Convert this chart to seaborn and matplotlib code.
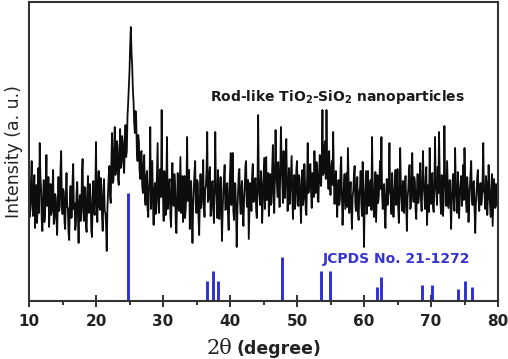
import numpy as np
import pandas as pd
import matplotlib
matplotlib.use('Agg')
import matplotlib.pyplot as plt
import seaborn as sns

# XRD pattern (2theta step 0.1 deg, intensity in a.u.)
two_theta = np.round(np.arange(10.0, 80.001, 0.1), 1)
intensity = [
    118, 84, 92, 121, 140, 97, 85, 109, 126, 73, 101, 116, 78, 98, 133, 88, 158, 125, 112, 80,
    70, 103, 121, 79, 88, 110, 146, 95, 99, 124, 74, 100, 117, 86, 90, 113, 131, 77, 82, 107,
    104, 82, 66, 98, 124, 90, 95, 131, 150, 101, 87, 112, 109, 79, 72, 105, 128, 94, 93, 68,
    61, 99, 115, 83, 84, 120, 137, 92, 98, 71, 76, 108, 119, 87, 58, 96, 106, 80, 89, 127,
    142, 91, 80, 114, 113, 75, 69, 102, 125, 88, 94, 117, 103, 70, 64, 99, 120, 93, 86, 110,
    159, 98, 79, 115, 130, 95, 91, 123, 115, 84, 70, 104, 122, 90, 88, 76, 50, 92, 110, 126,
    135, 104, 98, 142, 168, 118, 120, 150, 174, 126, 132, 160, 155, 121, 116, 147, 172, 133, 140, 165,
    160, 137, 128, 158, 176, 144, 150, 185, 198, 215, 230, 255, 274, 248, 236, 212, 200, 178, 168, 190,
    182, 150, 140, 166, 160, 131, 122, 148, 150, 115, 108, 136, 146, 102, 96, 124, 130, 92, 84, 112,
    125, 174, 92, 118, 140, 99, 76, 110, 118, 87, 100, 129, 158, 97, 88, 121, 132, 104, 191, 118,
    104, 80, 130, 111, 86, 120, 164, 92, 97, 118, 122, 85, 74, 106, 138, 99, 95, 127, 116, 78,
    68, 102, 128, 94, 90, 119, 144, 88, 101, 125, 79, 97, 125, 83, 93, 115, 164, 100, 105, 131,
    72, 108, 120, 90, 58, 96, 112, 129, 140, 95, 88, 121, 118, 84, 66, 101, 127, 93, 99, 114,
    141, 96, 84, 112, 115, 130, 169, 99, 102, 127, 134, 85, 90, 117, 120, 93, 78, 108, 169, 112,
    106, 83, 131, 114, 82, 98, 124, 95, 60, 89, 110, 122, 136, 91, 92, 115, 118, 86, 71, 104,
    125, 148, 96, 109, 148, 90, 81, 118, 117, 92, 54, 88, 109, 128, 132, 99, 87, 113, 120, 94,
    75, 101, 113, 135, 140, 97, 94, 121, 62, 88, 118, 106, 90, 126, 137, 99, 100, 119, 123, 91,
    83, 112, 186, 118, 105, 96, 130, 117, 78, 102, 121, 143, 92, 109, 144, 101, 110, 128, 85, 112,
    127, 96, 98, 133, 156, 110, 88, 124, 171, 130, 117, 104, 139, 118, 94, 126, 174, 140, 121, 98,
    150, 112, 103, 137, 162, 119, 90, 108, 133, 97, 111, 128, 145, 104, 82, 115, 126, 92, 99, 131,
    140, 107, 95, 126, 122, 100, 78, 112, 131, 96, 104, 137, 118, 91, 86, 119, 158, 108, 112, 135,
    137, 110, 93, 128, 125, 104, 150, 121, 108, 139, 134, 102, 99, 127, 146, 118, 115, 142, 191, 126,
    128, 154, 160, 122, 191, 140, 132, 112, 150, 124, 106, 131, 140, 116, 169, 125, 97, 120, 130, 103,
    84, 112, 121, 96, 101, 133, 144, 105, 76, 98, 115, 127, 92, 110, 128, 94, 153, 119, 88, 106,
    119, 93, 72, 104, 110, 126, 135, 98, 90, 115, 124, 88, 81, 109, 113, 130, 97, 85, 139, 108,
    54, 96, 112, 130, 87, 104, 130, 95, 100, 118, 121, 91, 164, 113, 95, 84, 118, 129, 79, 101,
    126, 98, 104, 121, 140, 112, 164, 106, 92, 114, 117, 88, 73, 103, 122, 96, 98, 120, 158, 109,
    106, 87, 128, 111, 84, 102, 115, 131, 96, 108, 132, 94, 78, 105, 153, 117, 102, 90, 120, 99,
    88, 116, 125, 97, 70, 103, 111, 128, 136, 92, 94, 119, 148, 108, 99, 124, 119, 91, 82, 110,
    127, 98, 105, 120, 138, 101, 90, 113, 150, 117, 108, 92, 123, 134, 76, 100, 116, 89, 153, 112,
    97, 121, 128, 94, 89, 110, 164, 119, 110, 96, 134, 108, 169, 124, 101, 87, 126, 115, 85, 103,
    175, 122, 112, 95, 140, 118, 93, 106, 121, 99, 72, 101, 118, 127, 99, 90, 153, 114, 106, 88,
    129, 102, 83, 110, 117, 125, 95, 108, 136, 101, 153, 120, 104, 89, 124, 112, 79, 98, 113, 128,
    140, 104, 96, 118, 120, 91, 68, 97, 109, 124, 131, 102, 90, 115, 118, 96, 101, 122, 158, 110,
    107, 92, 125, 116, 86, 104, 136, 111, 98, 84, 114, 127, 75, 99, 122, 108, 93, 117, 110, 95,
    100,
]

# JCPDS 21-1272 reference lines (positions as drawn in the picture)
ref_pos = [24.8, 36.6, 37.5, 38.2, 47.8, 53.6, 54.9, 61.9, 62.5, 68.7, 70.2, 74.0, 75.1, 76.1]
ref_int = [108, 20, 30, 20, 44, 30, 30, 14, 24, 16, 16, 12, 20, 14]

df = pd.DataFrame({'two_theta': two_theta, 'intensity': intensity})

sns.set_style('ticks')
plt.rcParams['font.family'] = ['DejaVu Sans']

fig, ax = plt.subplots(figsize=(5.08, 3.59), dpi=100)
fig.subplots_adjust(left=29/508, right=498/508, bottom=58/359, top=357/359)

sns.lineplot(data=df, x='two_theta', y='intensity', color='#0d0d0d',
             linewidth=1.3, sort=False, estimator=None, ax=ax)
ax.vlines(ref_pos, 0, ref_int, color='#2f2fd6', linewidth=2.1)

ax.text(37.0, 199.5, r'Rod-like TiO$_\mathbf{2}$-SiO$_\mathbf{2}$ nanoparticles',
        fontsize=10, fontweight='bold', color='#1a1a1a', va='baseline')
ax.text(53.9, 38, 'JCPDS No. 21-1272', fontsize=10, fontweight='bold',
        color='#3535d0', va='baseline')

ax.set_xlim(10, 80)
ax.set_ylim(0, 299)
ax.set_xticks(range(10, 81, 10))
ax.set_xticks(range(15, 80, 10), minor=True)
ax.set_yticks([])
ax.tick_params(axis='x', which='major', direction='inout', length=8, width=1.3,
               labelsize=11, pad=5, colors='#222222')
ax.tick_params(axis='x', which='minor', direction='out', length=3, width=1.3,
               colors='#222222')
for lbl in ax.get_xticklabels():
    lbl.set_fontweight('bold')
for sp in ax.spines.values():
    sp.set_visible(True)
    sp.set_linewidth(1.5)
    sp.set_color('#333333')

ax.set_xlabel('')
ax.set_ylabel('Intensity (a. u.)', fontsize=12.5, color='#222222', labelpad=4)
fig.text(207/508, 5/359, '2θ', family='DejaVu Serif', fontsize=15,
         color='#222222', va='baseline')
fig.text(236/508, 5/359, '(degree)', fontsize=12.5, fontweight='bold',
         color='#222222', va='baseline')

fig.savefig('out.png', dpi=100)
